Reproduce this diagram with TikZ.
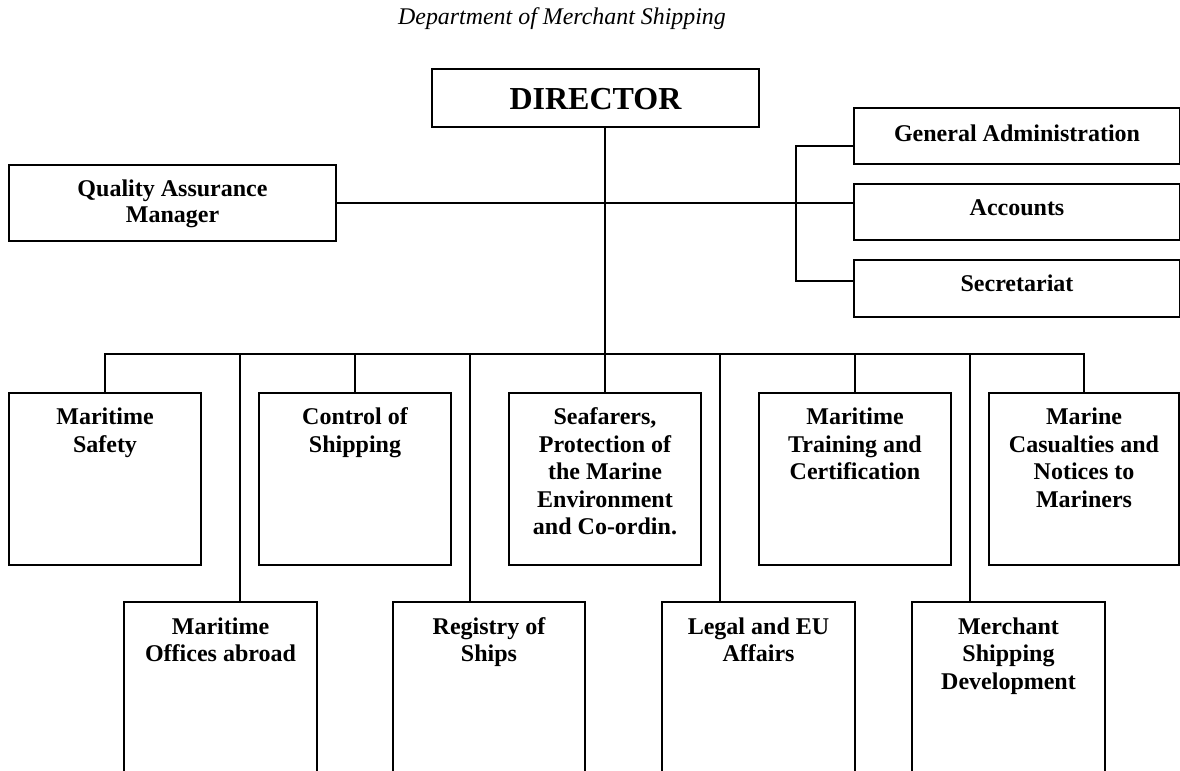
\documentclass[tikz,border=0pt]{standalone}
\usepackage{fontspec}
\setmainfont{Liberation Serif}
\usetikzlibrary{calc}
% centred lines whose reference point is the baseline of the first line
\newcommand{\boxtext}[1]{\begin{tabular}[t]{@{}c@{}}#1\end{tabular}}
\begin{document}
\begin{tikzpicture}[x=1bp,y=-1bp,
  box/.style={draw, line width=2bp, inner sep=0pt, anchor=north west},
  lbl/.style={font=\bfseries\fontsize{24bp}{27.5bp}\selectfont, anchor=base, inner sep=0pt},
  link/.style={line width=2bp}]
\useasboundingbox (0,0) rectangle (1180,771);
\clip (0,0) rectangle (1180,771);

% heading
\node[font=\itshape\fontsize{23.9bp}{28bp}\selectfont, anchor=base, inner sep=0pt] (title) at (562,25) {Department of Merchant Shipping};

% top management
\node[box, minimum width=327bp, minimum height=58bp] (dir) at (431,68) {};
\node[lbl, font=\bfseries\fontsize{32bp}{36bp}\selectfont] (dir-t) at ($(dir.north)+(0,42)$) {DIRECTOR};

\node[box, minimum width=327bp, minimum height=76bp] (qa) at (8,164) {};
\node[lbl, font=\bfseries\fontsize{24bp}{26bp}\selectfont] (qa-t) at ($(qa.north)+(0,32.7)$) {\boxtext{Quality Assurance\\Manager}};

\node[box, minimum width=326bp, minimum height=56bp] (ga) at (853,107) {};
\node[lbl] (ga-t) at ($(ga.north)+(0,34)$) {General Administration};
\node[box, minimum width=326bp, minimum height=56bp] (acc) at (853,183) {};
\node[lbl] (acc-t) at ($(acc.north)+(0,32)$) {Accounts};
\node[box, minimum width=326bp, minimum height=57bp] (sec) at (853,259) {};
\node[lbl] (sec-t) at ($(sec.north)+(0,32.5)$) {Secretariat};

% first row of sections
\node[box, minimum width=192bp, minimum height=172bp] (ms) at (8,392) {};
\node[lbl] (ms-t) at ($(ms.north)+(0,32.8)$) {\boxtext{Maritime\\Safety}};
\node[box, minimum width=192bp, minimum height=172bp] (cs) at (258,392) {};
\node[lbl] (cs-t) at ($(cs.north)+(0,32.8)$) {\boxtext{Control of\\Shipping}};
\node[box, minimum width=192bp, minimum height=172bp] (sea) at (508,392) {};
\node[lbl] (sea-t) at ($(sea.north)+(0,32.8)$) {\boxtext{Seafarers,\\Protection of\\the Marine\\Environment\\and Co-ordin.}};
\node[box, minimum width=192bp, minimum height=172bp] (tr) at (758,392) {};
\node[lbl] (tr-t) at ($(tr.north)+(0,32.8)$) {\boxtext{Maritime\\Training and\\Certification}};
\node[box, minimum width=190bp, minimum height=172bp] (cas) at (988,392) {};
\node[lbl] (cas-t) at ($(cas.north)+(0,32.8)$) {\boxtext{Marine\\Casualties and\\Notices to\\Mariners}};

% second row of sections (running past the page foot)
\node[box, minimum width=193bp, minimum height=250bp] (mo) at (123,601) {};
\node[lbl] (mo-t) at ($(mo.north)+(0,33)$) {\boxtext{Maritime\\Offices abroad}};
\node[box, minimum width=192bp, minimum height=250bp] (reg) at (392,601) {};
\node[lbl] (reg-t) at ($(reg.north)+(0,33)$) {\boxtext{Registry of\\Ships}};
\node[box, minimum width=193bp, minimum height=250bp] (leg) at (661,601) {};
\node[lbl] (leg-t) at ($(leg.north)+(0,33)$) {\boxtext{Legal and EU\\Affairs}};
\node[box, minimum width=193bp, minimum height=250bp] (msd) at (911,601) {};
\node[lbl] (msd-t) at ($(msd.north)+(0,33)$) {\boxtext{Merchant\\Shipping\\Development}};

% connectors
\coordinate (busy) at (0,354);
\coordinate (brk) at (796,0);
\coordinate (ga-in) at ($(ga.north west)!0.6786!(ga.south west)$);
\coordinate (sec-in) at ($(sec.north west)!0.3684!(sec.south west)$);
\coordinate (mo-in) at ($(mo.north west)!0.601!(mo.north east)$);
\coordinate (reg-in) at ($(reg.north west)!0.401!(reg.north east)$);
\coordinate (leg-in) at ($(leg.north west)!0.3005!(leg.north east)$);
\coordinate (msd-in) at ($(msd.north west)!0.3005!(msd.north east)$);

\draw[link] (dir.south -| sea.north) -- (sea.north);
\draw[link] (qa.east) -- (qa.east -| acc.west);
\draw[link] (ga-in) -- (brk |- ga-in) -- (brk |- sec-in) -- (sec-in);
\draw[link] (ms.north) -- (ms.north |- busy) -- (cas.north |- busy) -- (cas.north);
\draw[link] (cs.north |- busy) -- (cs.north);
\draw[link] (tr.north |- busy) -- (tr.north);
\draw[link] (mo-in |- busy) -- (mo-in);
\draw[link] (reg-in |- busy) -- (reg-in);
\draw[link] (leg-in |- busy) -- (leg-in);
\draw[link] (msd-in |- busy) -- (msd-in);
\end{tikzpicture}
\end{document}
